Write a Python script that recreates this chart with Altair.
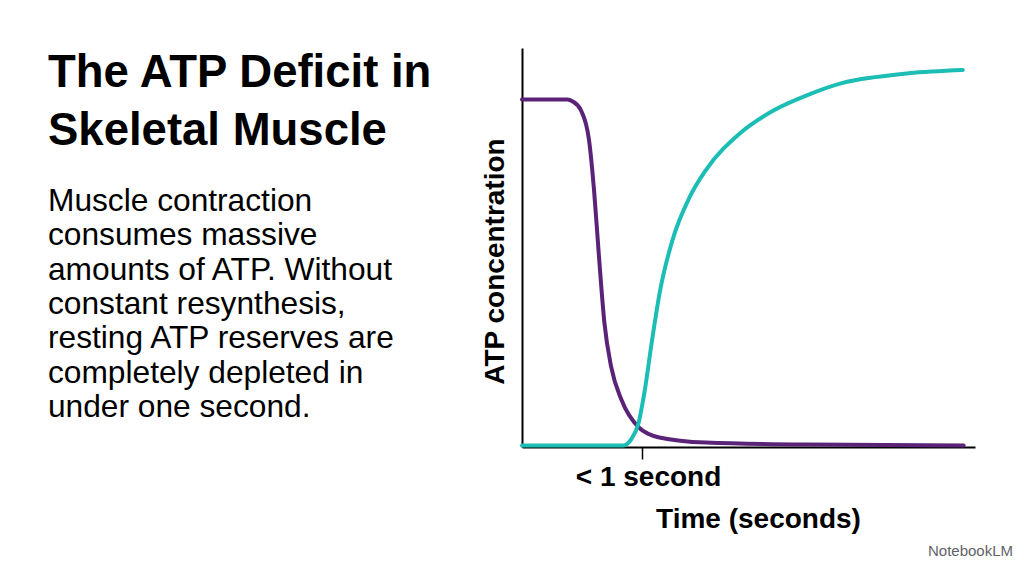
import altair as alt
import pandas as pd

# ATP store being depleted (purple)
depletion_t = [0, 10.0, 11.2, 13.0, 14.8, 15.9, 17.0, 18.2, 19.7, 22.0, 25.8, 30.3, 40.6, 63.0, 97.5]
depletion_v = [87.1, 87.1, 86.6, 84.4, 76.9, 64.4, 47.6, 31.0, 20.0, 11.7, 4.9, 2.4, 1.1, 0.6, 0.4]

# ATP resynthesis (teal)
resynth_t = [0, 22.4, 24.2, 25.7, 27.1, 28.7, 30.5, 33.2, 37.0, 40.6, 48.2, 55.6, 63.0, 70.6, 78.0, 85.4, 97.3]
resynth_v = [0.4, 0.4, 2.1, 5.9, 14.2, 26.7, 39.3, 51.8, 62.6, 69.4, 78.7, 84.4, 88.2, 91.2, 92.7, 93.7, 94.5]

tick_values = [26.5]
tick_labels = ["< 1 second"]

title_lines = ["The ATP Deficit in", "Skeletal Muscle"]
body_lines = [
    "Muscle contraction",
    "consumes massive",
    "amounts of ATP. Without",
    "constant resynthesis,",
    "resting ATP reserves are",
    "completely depleted in",
    "under one second.",
]

FONT = "Liberation Sans"

df = pd.concat([
    pd.DataFrame({"t": depletion_t, "v": depletion_v, "series": "depletion", "o": range(len(depletion_t))}),
    pd.DataFrame({"t": resynth_t, "v": resynth_v, "series": "resynthesis", "o": range(len(resynth_t))}),
])

label_expr = "datum.value == 26.5 ? '" + tick_labels[0] + "' : ''"

lines = alt.Chart(df).mark_line(strokeWidth=4, interpolate="monotone", strokeCap="round").encode(
    x=alt.X("t:Q", scale=alt.Scale(domain=[0, 100], nice=False, zero=False),
            axis=alt.Axis(values=tick_values, labelExpr=label_expr, grid=False,
                          domainColor="#000000", domainWidth=2, tickColor="#000000",
                          tickWidth=1.5, tickSize=12, labelPadding=4, labelOffset=6,
                          labelFont=FONT, labelFontSize=28, labelFontWeight="bold",
                          labelColor="#000000",
                          title="Time (seconds)", titleFont=FONT, titleFontSize=28,
                          titleFontWeight="bold", titleColor="#000000",
                          titleX=236, titleY=80, titleBaseline="alphabetic",
                          titleAnchor="middle", titleAlign="center")),
    y=alt.Y("v:Q", scale=alt.Scale(domain=[0, 100], nice=False),
            axis=alt.Axis(values=[], ticks=False, labels=False, grid=False,
                          domainColor="#000000", domainWidth=2,
                          title="ATP concentration", titleFont=FONT, titleFontSize=28,
                          titleFontWeight="bold", titleColor="#000000",
                          titleX=-19, titleY=213, titleBaseline="alphabetic",
                          titleAngle=270, titleAlign="center")),
    color=alt.Color("series:N", scale=alt.Scale(domain=["depletion", "resynthesis"],
                                                range=["#5A2378", "#1BBDB5"]), legend=None),
    order="o:Q",
)

title_df = pd.DataFrame({"txt": ["\n".join(title_lines)]})
title = alt.Chart(title_df).mark_text(
    align="left", baseline="alphabetic", font=FONT, fontSize=45.5, fontWeight="bold",
    color="#000000", lineBreak="\n", lineHeight=58.3
).encode(x=alt.value(-474), y=alt.value(38.7), text="txt:N")

body_df = pd.DataFrame({"txt": ["\n".join(body_lines)]})
body = alt.Chart(body_df).mark_text(
    align="left", baseline="alphabetic", font=FONT, fontSize=31.7,
    color="#000000", lineBreak="\n", lineHeight=34.3
).encode(x=alt.value(-474), y=alt.value(163), text="txt:N")

logo_df = pd.DataFrame({"txt": ["NotebookLM"]})
logo = alt.Chart(logo_df).mark_text(
    align="left", baseline="alphabetic", font=FONT, fontSize=15, color="#5f6368"
).encode(x=alt.value(406), y=alt.value(508), text="txt:N")

chart = alt.layer(lines, title, body, logo).properties(
    width=453, height=399,
    padding={"left": 514, "top": 40, "right": 41, "bottom": 117},
    autosize=alt.AutoSizeParams(type="none"),
    background="#ffffff",
).configure_view(stroke=None)

chart.save("out.html", embed_options={"renderer": "svg", "actions": False})
